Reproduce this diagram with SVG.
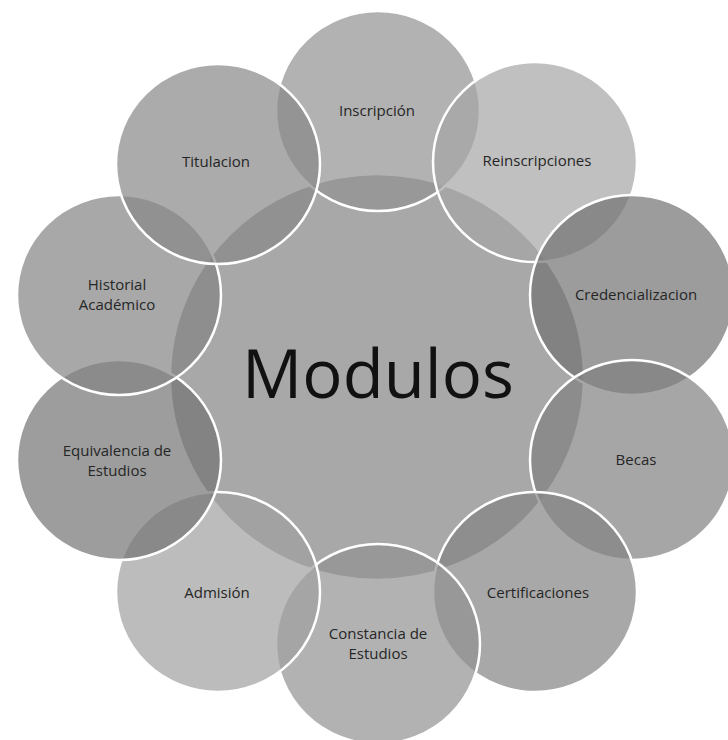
<svg xmlns="http://www.w3.org/2000/svg" width="728" height="740" viewBox="0 0 728 740">
<style>
.c{stroke:#ffffff;stroke-width:2.5;fill-opacity:0.7}
.t{font-family:"Open Sans","Liberation Sans",sans-serif;font-size:15px;fill:#262626;text-anchor:middle}
.m{font-family:"Open Sans","Liberation Sans",sans-serif;font-size:67px;fill:#111111;text-anchor:middle}
</style>
<rect x="0" y="0" width="728" height="740" fill="#ffffff"/>
<g id="connectors"/>
<g id="modulos">
<ellipse class="c" cx="377" cy="377" rx="207" ry="203" fill="#838383"/>
<text class="m" x="378" y="398">Modulos</text>
</g>
<g id="inscripcion">
<ellipse class="c" cx="378" cy="111" rx="102" ry="100" fill="#919191"/>
<text class="t" x="377" y="116">Inscripción</text>
</g>
<g id="reinscripciones">
<ellipse class="c" cx="535" cy="162" rx="102" ry="100" fill="#a5a5a5"/>
<text class="t" x="537" y="166">Reinscripciones</text>
</g>
<g id="credencializacion">
<ellipse class="c" cx="632" cy="295" rx="102" ry="100" fill="#727272"/>
<text class="t" x="636" y="300">Credencializacion</text>
</g>
<g id="becas">
<ellipse class="c" cx="632" cy="460" rx="102" ry="100" fill="#808080"/>
<text class="t" x="636" y="465">Becas</text>
</g>
<g id="certificaciones">
<ellipse class="c" cx="535" cy="592" rx="102" ry="100" fill="#838383"/>
<text class="t" x="538" y="598">Certificaciones</text>
</g>
<g id="constancia">
<ellipse class="c" cx="378" cy="644" rx="102" ry="100" fill="#919191"/>
<text class="t" x="378" y="639">Constancia de</text>
<text class="t" x="378" y="659">Estudios</text>
</g>
<g id="admision">
<ellipse class="c" cx="218" cy="592" rx="102" ry="100" fill="#9f9f9f"/>
<text class="t" x="217" y="598">Admisión</text>
</g>
<g id="equivalencia">
<ellipse class="c" cx="119" cy="460" rx="102" ry="100" fill="#747474"/>
<text class="t" x="117" y="456">Equivalencia de</text>
<text class="t" x="117" y="476">Estudios</text>
</g>
<g id="historial">
<ellipse class="c" cx="119" cy="295" rx="102" ry="100" fill="#838383"/>
<text class="t" x="117" y="290">Historial</text>
<text class="t" x="117" y="310">Académico</text>
</g>
<g id="titulacion">
<ellipse class="c" cx="218" cy="164" rx="102" ry="100" fill="#888888"/>
<text class="t" x="216" y="167">Titulacion</text>
</g>
</svg>
